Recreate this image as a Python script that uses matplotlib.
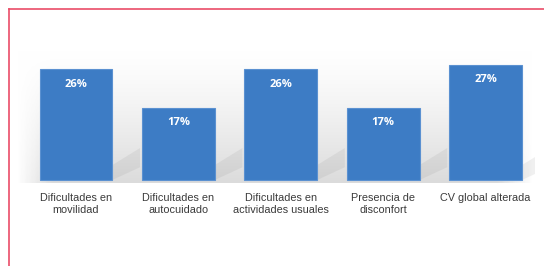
import numpy as np
import matplotlib.pyplot as plt
from matplotlib.lines import Line2D
from matplotlib.patches import Polygon

categorias = ['Dificultades en\nmovilidad', 'Dificultades en\nautocuidado',
              'Dificultades en\nactividades usuales', 'Presencia de\ndisconfort',
              'CV global alterada']
valores = [26, 17, 26, 17, 27]
etiquetas = ['26%', '17%', '26%', '17%', '27%']

W, H = 544, 266
fig = plt.figure(figsize=(W / 100, H / 100), dpi=100)
fig.patch.set_facecolor('white')

# marco rosa (izquierda y arriba)
rojo = '#ea4d68'
fig.add_artist(Line2D([8.5 / W, 8.5 / W], [0, 1 - 8.5 / H], color=rojo, lw=1.2))
fig.add_artist(Line2D([8.5 / W, 1], [1 - 8.5 / H, 1 - 8.5 / H], color=rojo, lw=1.2))

# ejes en pixeles
x0, x1 = 15, 535
y_top, y_bot = 50, 183
ax = fig.add_axes([x0 / W, (H - y_bot) / H, (x1 - x0) / W, (y_bot - y_top) / H])
paso = 102.4
xlim = ((x0 - 76) / paso, (x1 - 76) / paso)
escala = 4.26
ylim = (-(y_bot - 180) / escala, (180 - y_top) / escala)
ax.set_xlim(xlim)
ax.set_ylim(ylim)

# fondo degradado gris (blanco arriba, gris abajo)
grad = np.linspace(0, 1, 100) ** 1.3
fondo = np.zeros((100, 100, 3))
tono = 1 - 0.14 * grad
horiz = np.minimum(1, np.minimum(np.linspace(0, 1, 100), np.linspace(1, 0, 100)) * 15)
for c in range(3):
    fondo[:, :, c] = 1 - (1 - tono[:, None]) * horiz[None, :]
ax.imshow(fondo, extent=(xlim[0], xlim[1], ylim[0], ylim[1]), aspect='auto',
          origin='upper', zorder=0)

x = np.arange(len(valores))
ancho = 0.71

# sombras detras de las barras
for xi, v in zip(x, valores):
    xr = xi + ancho / 2
    poly = Polygon([(xr, 0), (xr, 3.5), (xr + 0.27, 7.5), (xr + 0.27, 3.0)],
                   closed=True, facecolor='#707070', edgecolor='none', alpha=0.1, zorder=1)
    ax.add_patch(poly)

barras = ax.bar(x, valores, width=ancho, color='#3d7cc5', edgecolor='#5b91d1',
                linewidth=0.8, zorder=2)

for xi, v, t in zip(x, valores, etiquetas):
    ax.text(xi, v - 3.5, t, ha='center', va='center', color='white',
            fontsize=8, fontweight='bold', family='Open Sans', zorder=3)

ax.set_xticks(x)
ax.set_xticklabels(categorias, fontsize=7.8, color='#3a3a3a', family='Liberation Sans',
                   linespacing=1.25)
ax.tick_params(axis='x', length=0, pad=7.5)
ax.set_yticks([])
for s in ax.spines.values():
    s.set_visible(False)

fig.savefig('out.png', dpi=100)
